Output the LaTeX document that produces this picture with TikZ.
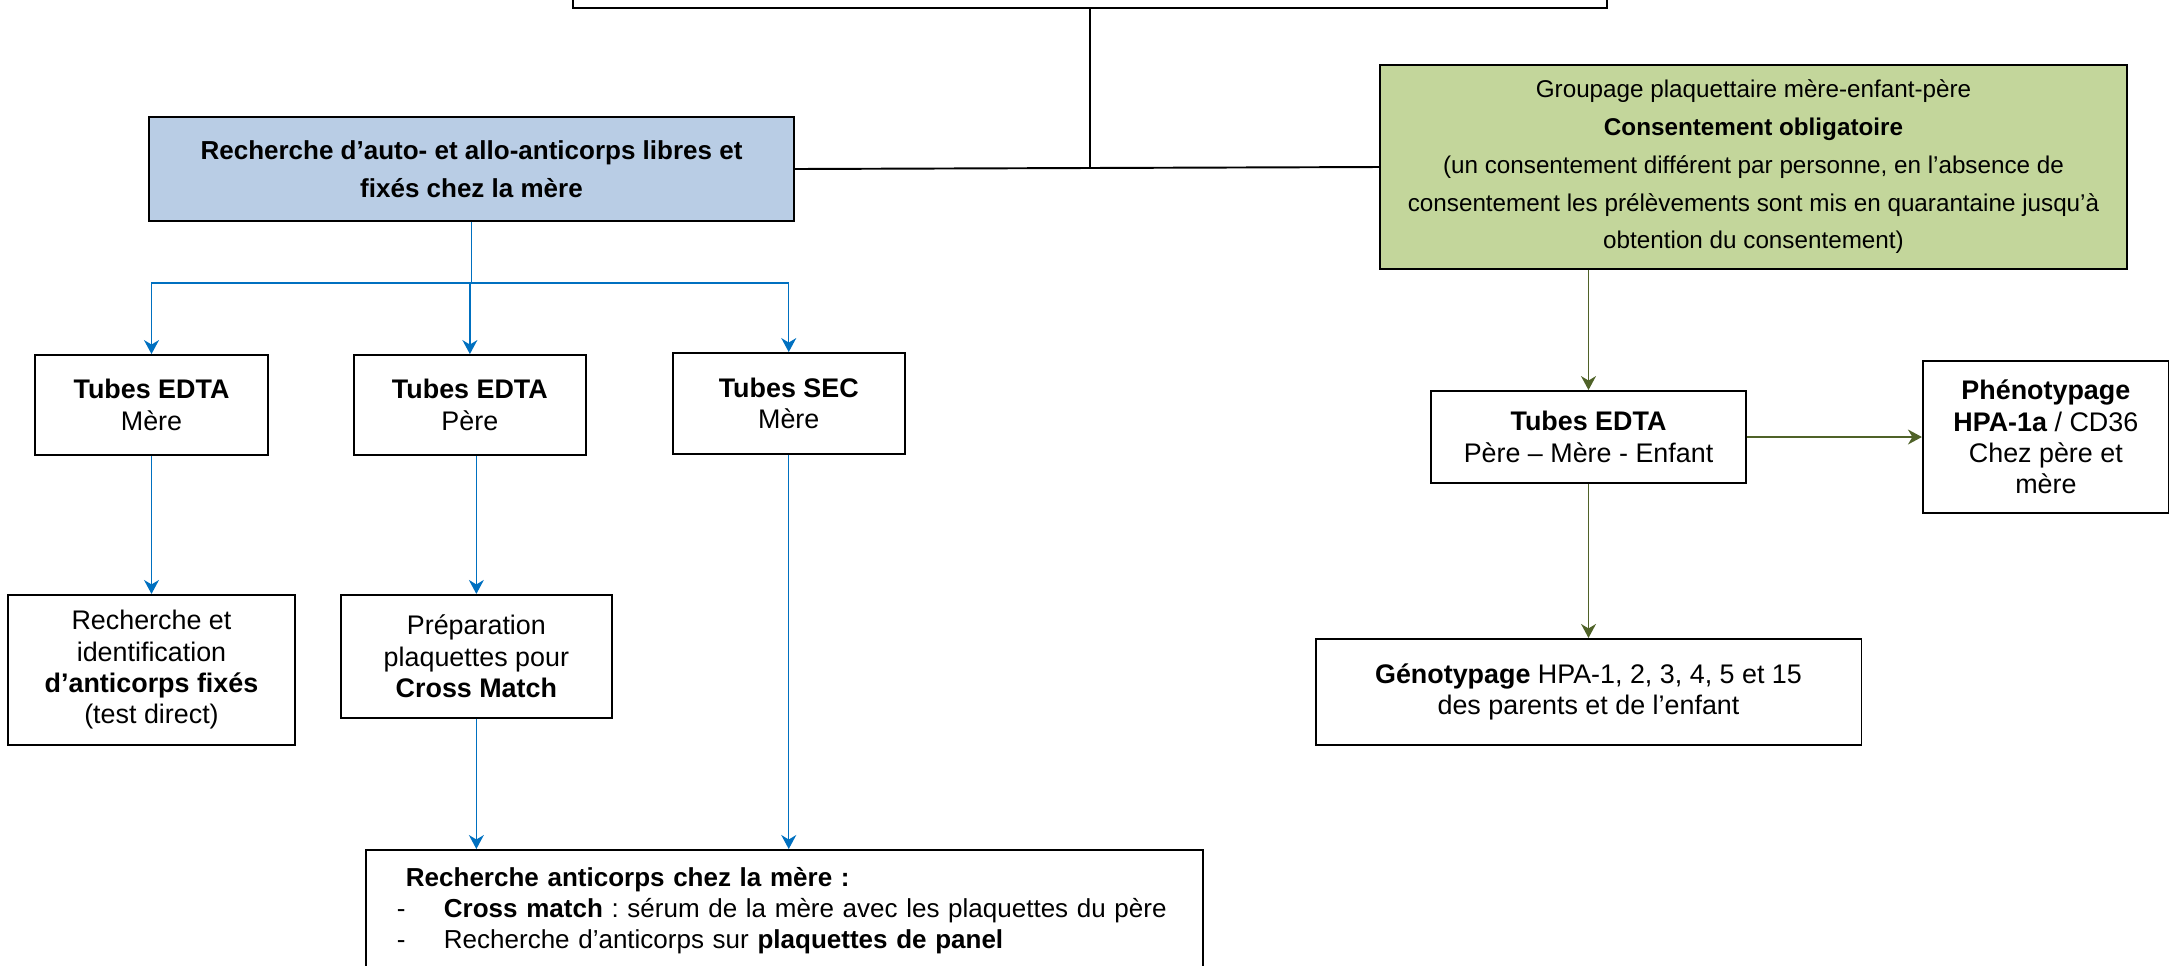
\documentclass[tikz,border=0pt]{standalone}
\usepackage{fontspec}
\setmainfont{Liberation Sans}
\usepackage{tikz}
\usetikzlibrary{arrows.meta,positioning}
\definecolor{BoxBlue}{RGB}{185,205,229}
\definecolor{BoxGreen}{RGB}{195,214,155}
\definecolor{LinkBlue}{RGB}{0,112,192}
\definecolor{LinkGreen}{RGB}{79,98,40}
\frenchspacing

\begin{document}
\begin{tikzpicture}[x=0.02cm,y=-0.02cm,>={Stealth[length=0.28cm,width=0.3cm,inset=0.09cm]},
  box/.style={draw,line width=1.1pt,inner sep=0pt,align=center,font=\fontsize{15.3}{17.8}\selectfont},
  wide/.style={font=\fontsize{14.8}{21.5}\selectfont},
  blueline/.style={draw=LinkBlue,line width=0.8pt},
  greenline/.style={draw=LinkGreen,line width=0.8pt}]
\useasboundingbox (0,0) rectangle (2169,965);
\clip (0,0) rectangle (2169,965);

\node[box,minimum width=20.68cm,minimum height=2cm] (top) at (1090,-42) {};
\node[box,wide,fill=BoxBlue,minimum width=12.9cm,minimum height=2.08cm] (recherche) at (471.5,169)
  {\textbf{Recherche d’auto- et allo-anticorps libres et}\\\textbf{fixés chez la mère}};
\node[box,wide,font=\fontsize{13.8}{21.5}\selectfont,fill=BoxGreen,minimum width=14.94cm,minimum height=4.08cm] (groupage) at (1753.5,167)
  {Groupage plaquettaire mère-enfant-père\\\textbf{Consentement obligatoire}\\(un consentement différent par personne, en l’absence de\\consentement les prélèvements sont mis en quarantaine jusqu’à\\obtention du consentement)};

% prelevements
\node[box,minimum width=4.66cm,minimum height=2cm] (edtamere) at (151.5,405) {\textbf{Tubes EDTA}\\Mère};
\node[box,minimum width=4.64cm,minimum height=2cm,right=1.68cm of edtamere] (edtapere) {\textbf{Tubes EDTA}\\Père};
\node[box,minimum width=4.64cm,minimum height=2.02cm,right=1.7cm of edtapere,yshift=0.03cm] (secmere) {\textbf{Tubes SEC}\\Mère};
\node[box,minimum width=5.74cm,minimum height=3cm,below=2.76cm of edtamere] (identif)
  {Recherche et\\identification\\\textbf{d’anticorps fixés}\\(test direct)};
\node[box,minimum width=5.42cm,minimum height=2.46cm,below=2.76cm of edtapere,xshift=0.13cm] (prep)
  {Préparation\\plaquettes pour\\\textbf{Cross Match}};
\node[box,font=\fontsize{14.8}{17.5}\selectfont,align=left,anchor=north west,inner xsep=0.62cm,text width=15.5cm,minimum height=2.42cm] (bilan) at (365,849)
  {\hspace*{0.18cm}\textbf{Recherche anticorps chez la mère :}\\
   \makebox[0.94cm][l]{-}\textbf{Cross match} : sérum de la mère avec les plaquettes du père\\
   \makebox[0.94cm][l]{-}Recherche d’anticorps sur \textbf{plaquettes de panel}};

% groupage
\node[box,minimum width=6.3cm,minimum height=1.84cm] (edtapme) at (1588.5,437) {\textbf{Tubes EDTA}\\Père – Mère - Enfant};
\node[box,minimum width=4.92cm,minimum height=3.04cm,right=3.5cm of edtapme] (pheno)
  {\textbf{Phénotypage}\\\textbf{HPA-1a} / CD36\\Chez père et\\mère};
\node[box,minimum width=10.92cm,minimum height=2.12cm,below=3.08cm of edtapme] (geno)
  {\textbf{Génotypage} HPA-1, 2, 3, 4, 5 et 15\\des parents et de l’enfant};

\draw[line width=1.1pt] (top.south) -- (top.south |- recherche.east);
\draw[line width=1.1pt] (recherche.east) -- (groupage.west);

\draw[blueline] (recherche.south) -- ++(0,61) coordinate (fork);
\draw[blueline,->] (fork) -| (edtamere.north);
\draw[blueline,->] (fork) -| (edtapere.north);
\draw[blueline,->] (fork) -| (secmere.north);
\draw[blueline,->] (edtamere.south) -- (identif.north);
\draw[blueline,->] (edtapere.south -| prep.north) -- (prep.north);
\draw[blueline,->] (prep.south) -- (prep.south |- bilan.north);
\draw[blueline,->] (secmere.south) -- (secmere.south |- bilan.north);

\draw[greenline,->] (edtapme.north |- groupage.south) -- (edtapme.north);
\draw[greenline,->] (edtapme.east) -- (pheno.west);
\draw[greenline,->] (edtapme.south) -- (geno.north);
\end{tikzpicture}
\end{document}
